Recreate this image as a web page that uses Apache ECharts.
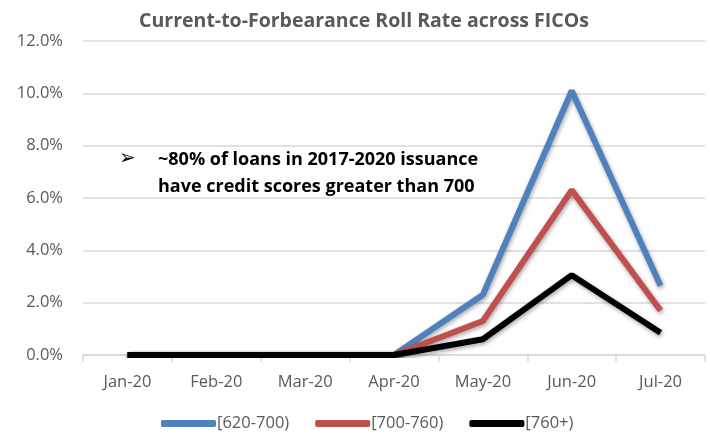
<!DOCTYPE html>
<html>
<head>
<meta charset="utf-8">
<script src="https://cdn.jsdelivr.net/npm/echarts@6/dist/echarts.min.js"></script>
<style>
  html, body { margin: 0; padding: 0; background: #fff; }
  #main { width: 710px; height: 437px; }
</style>
</head>
<body>
<div id="main"></div>
<script>
  // data
  const months = ['Jan-20', 'Feb-20', 'Mar-20', 'Apr-20', 'May-20', 'Jun-20', 'Jul-20']
  const fico620 = [0, 0, 0, 0, 2.3, 10.1, 2.65]
  const fico700 = [0, 0, 0, 0, 1.3, 6.3, 1.7]
  const fico760 = [0, 0, 0, 0, 0.6, 3.05, 0.85]
  const seriesNames = ['[620-700)', '[700-760)', '[760+)']
  const seriesColors = ['#4f81bd', '#c0504d', '#000000']

  const chart = echarts.init(document.getElementById('main'))
  const font = 'Open Sans'

  const makeLine = (name, data, color) => ({
    name: name,
    type: 'line',
    data: data,
    symbol: 'none',
    lineStyle: {
      color: color,
      width: 6,
      shadowColor: 'rgba(0,0,0,0.35)',
      shadowBlur: 4,
      shadowOffsetX: 1,
      shadowOffsetY: 2
    },
    itemStyle: { color: color }
  })

  chart.setOption({
    animation: false,
    title: {
      text: 'Current-to-Forbearance Roll Rate across FICOs',
      left: 359,
      top: 6,
      textAlign: 'center',
      textStyle: { fontFamily: font, fontSize: 19.5, fontWeight: 'bold', color: '#595959' }
    },
    grid: { left: 83, right: 5, top: 41, bottom: 82 },
    xAxis: {
      type: 'category',
      data: months,
      axisLine: { lineStyle: { color: '#d9d9d9', width: 1.5 } },
      axisTick: { show: true, length: 7, lineStyle: { color: '#d9d9d9', width: 1.5 } },
      axisLabel: { fontFamily: font, fontSize: 16.5, color: '#595959', margin: 19 }
    },
    yAxis: {
      type: 'value',
      min: 0,
      max: 12,
      interval: 2,
      axisLine: { show: false },
      axisTick: { show: false },
      splitLine: { lineStyle: { color: '#d9d9d9', width: 1.5 } },
      axisLabel: {
        fontFamily: font, fontSize: 16.5, color: '#595959', margin: 20,
        formatter: (v) => v.toFixed(1) + '%'
      }
    },
    legend: {
      bottom: 0,
      left: 156,
      itemWidth: 55,
      itemHeight: 7,
      itemGap: 26,
      icon: 'roundRect',
      textStyle: { fontFamily: font, fontSize: 16.5, color: '#595959', padding: [0, 0, 0, -4] },
      data: seriesNames
    },
    graphic: [
      {
        type: 'text',
        left: 119,
        top: 149,
        style: { text: '➢', font: '20px "DejaVu Sans"', fill: '#000' }
      },
      {
        type: 'text',
        left: 158,
        top: 146,
        style: {
          text: '~80% of loans in 2017-2020 issuance\nhave credit scores greater than 700',
          font: 'bold 18px "Open Sans"',
          lineHeight: 27,
          fill: '#000'
        }
      }
    ],
    series: [
      makeLine(seriesNames[0], fico620, seriesColors[0]),
      makeLine(seriesNames[1], fico700, seriesColors[1]),
      makeLine(seriesNames[2], fico760, seriesColors[2])
    ]
  })
</script>
</body>
</html>
